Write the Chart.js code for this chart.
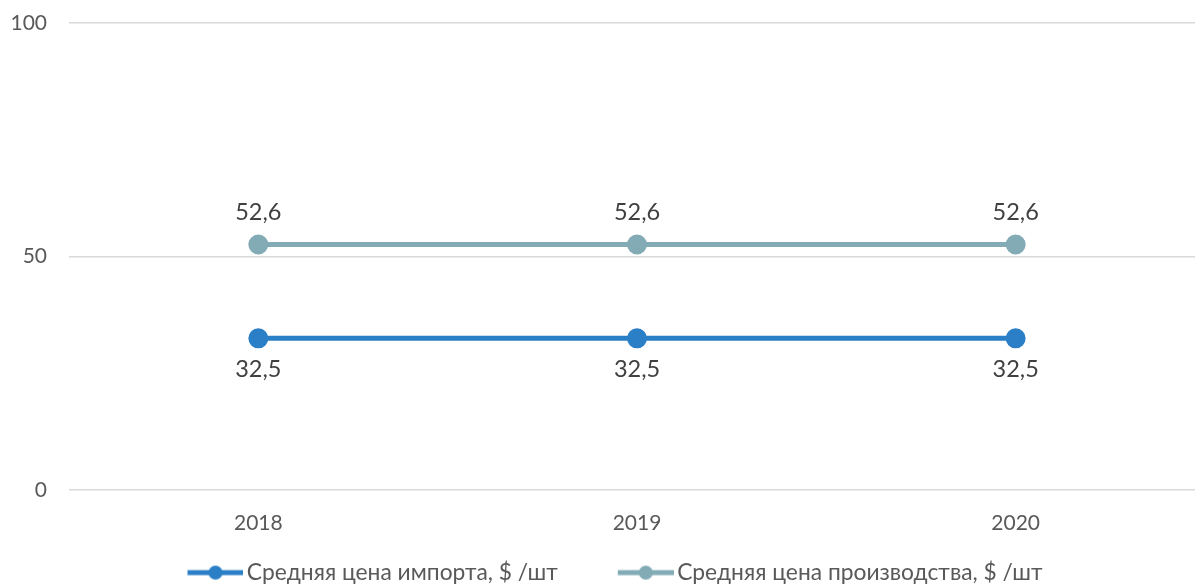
<!DOCTYPE html>
<html>
<head>
<meta charset="utf-8">
<script src="https://cdn.jsdelivr.net/npm/chart.js@4"></script>
<style>
  html, body { margin: 0; padding: 0; background: #fff; overflow: hidden; }
  #wrap { width: 1205px; height: 584px; position: relative; }
</style>
</head>
<body>
<div id="wrap"><canvas id="chart"></canvas></div>
<script>
// data
const years = ["2018", "2019", "2020"];
const importPrice = [32.5, 32.5, 32.5];
const productionPrice = [52.6, 52.6, 52.6];
const yTicks = [0, 50, 100];

const FONT = "Lato, 'Open Sans', sans-serif";
const importColor = "#2a7fc6";
const prodColor = "#82abb5";

// legend marker: line with a dot in the middle (left part left blank for spacing)
function legendMarker(color) {
    const c = document.createElement("canvas");
    c.width = 109; c.height = 16;
    const g = c.getContext("2d");
    g.strokeStyle = color;
    g.lineWidth = 5;
    g.beginPath(); g.moveTo(53, 8); g.lineTo(109, 8); g.stroke();
    g.fillStyle = color;
    g.beginPath(); g.arc(81, 8, 7, 0, Math.PI * 2); g.fill();
    return c;
}

// value labels above/below each point
const valueLabels = {
    id: "valueLabels",
    afterDatasetsDraw(chart) {
        const ctx = chart.ctx;
        ctx.save();
        ctx.font = "23.5px " + FONT;
        ctx.fillStyle = "#404040";
        ctx.textAlign = "center";
        ctx.textBaseline = "middle";
        chart.data.datasets.forEach((ds, i) => {
            const meta = chart.getDatasetMeta(i);
            meta.data.forEach((pt, j) => {
                const txt = ds.data[j].toFixed(1).replace(".", ",");
                const dy = ds.labelPos === "above" ? -32 : 31;
                ctx.fillText(txt, pt.x, pt.y + dy);
            });
        });
        ctx.restore();
    }
};

new Chart(document.getElementById("chart"), {
    type: "line",
    data: {
        labels: years,
        datasets: [
            {
                label: "Средняя цена импорта, $ /шт",
                data: importPrice,
                borderColor: importColor,
                backgroundColor: importColor,
                borderWidth: 5,
                pointRadius: 7.5,
                pointHoverRadius: 7.5,
                labelPos: "below",
                marker: legendMarker(importColor)
            },
            {
                label: "Средняя цена производства, $ /шт",
                data: productionPrice,
                borderColor: prodColor,
                backgroundColor: prodColor,
                borderWidth: 5,
                pointRadius: 7.5,
                pointHoverRadius: 7.5,
                labelPos: "above",
                marker: legendMarker(prodColor)
            }
        ]
    },
    plugins: [valueLabels],
    options: {
        responsive: true,
        maintainAspectRatio: false,
        animation: false,
        layout: { autoPadding: false, padding: { left: -20, top: 23, right: 0, bottom: -10 } },
        plugins: {
            tooltip: { enabled: false },
            legend: {
                position: "bottom",
                labels: {
                    usePointStyle: true,
                    pointStyleWidth: 93,
                    padding: 15,
                    color: "#595959",
                    font: { family: FONT, size: 22.8 },
                    generateLabels(chart) {
                        return chart.data.datasets.map((ds, i) => ({
                            text: ds.label,
                            pointStyle: ds.marker,
                            fillStyle: ds.borderColor,
                            strokeStyle: ds.borderColor,
                            lineWidth: 0,
                            fontColor: "#595959",
                            hidden: false,
                            datasetIndex: i
                        }));
                    }
                }
            }
        },
        scales: {
            x: {
                offset: true,
                grid: { display: false },
                border: { display: false },
                ticks: { color: "#595959", font: { family: FONT, size: 21 }, padding: 12 },
                afterFit(axis) {
                    axis.height = 56;
                    axis.paddingLeft = -20;
                    axis.paddingRight = 0;
                }
            },
            y: {
                min: yTicks[0],
                max: yTicks[yTicks.length - 1],
                afterBuildTicks(axis) { axis.ticks = yTicks.map(v => ({ value: v })); },
                grid: { color: "#d9d9d9", lineWidth: 1.5, drawTicks: false },
                border: { display: false },
                ticks: { color: "#595959", font: { family: FONT, size: 21 }, padding: 22 },
                afterFit(axis) {
                    axis.width = 89;
                    axis.paddingTop = 0;
                    axis.paddingBottom = 0;
                }
            }
        }
    }
});
</script>
</body>
</html>
